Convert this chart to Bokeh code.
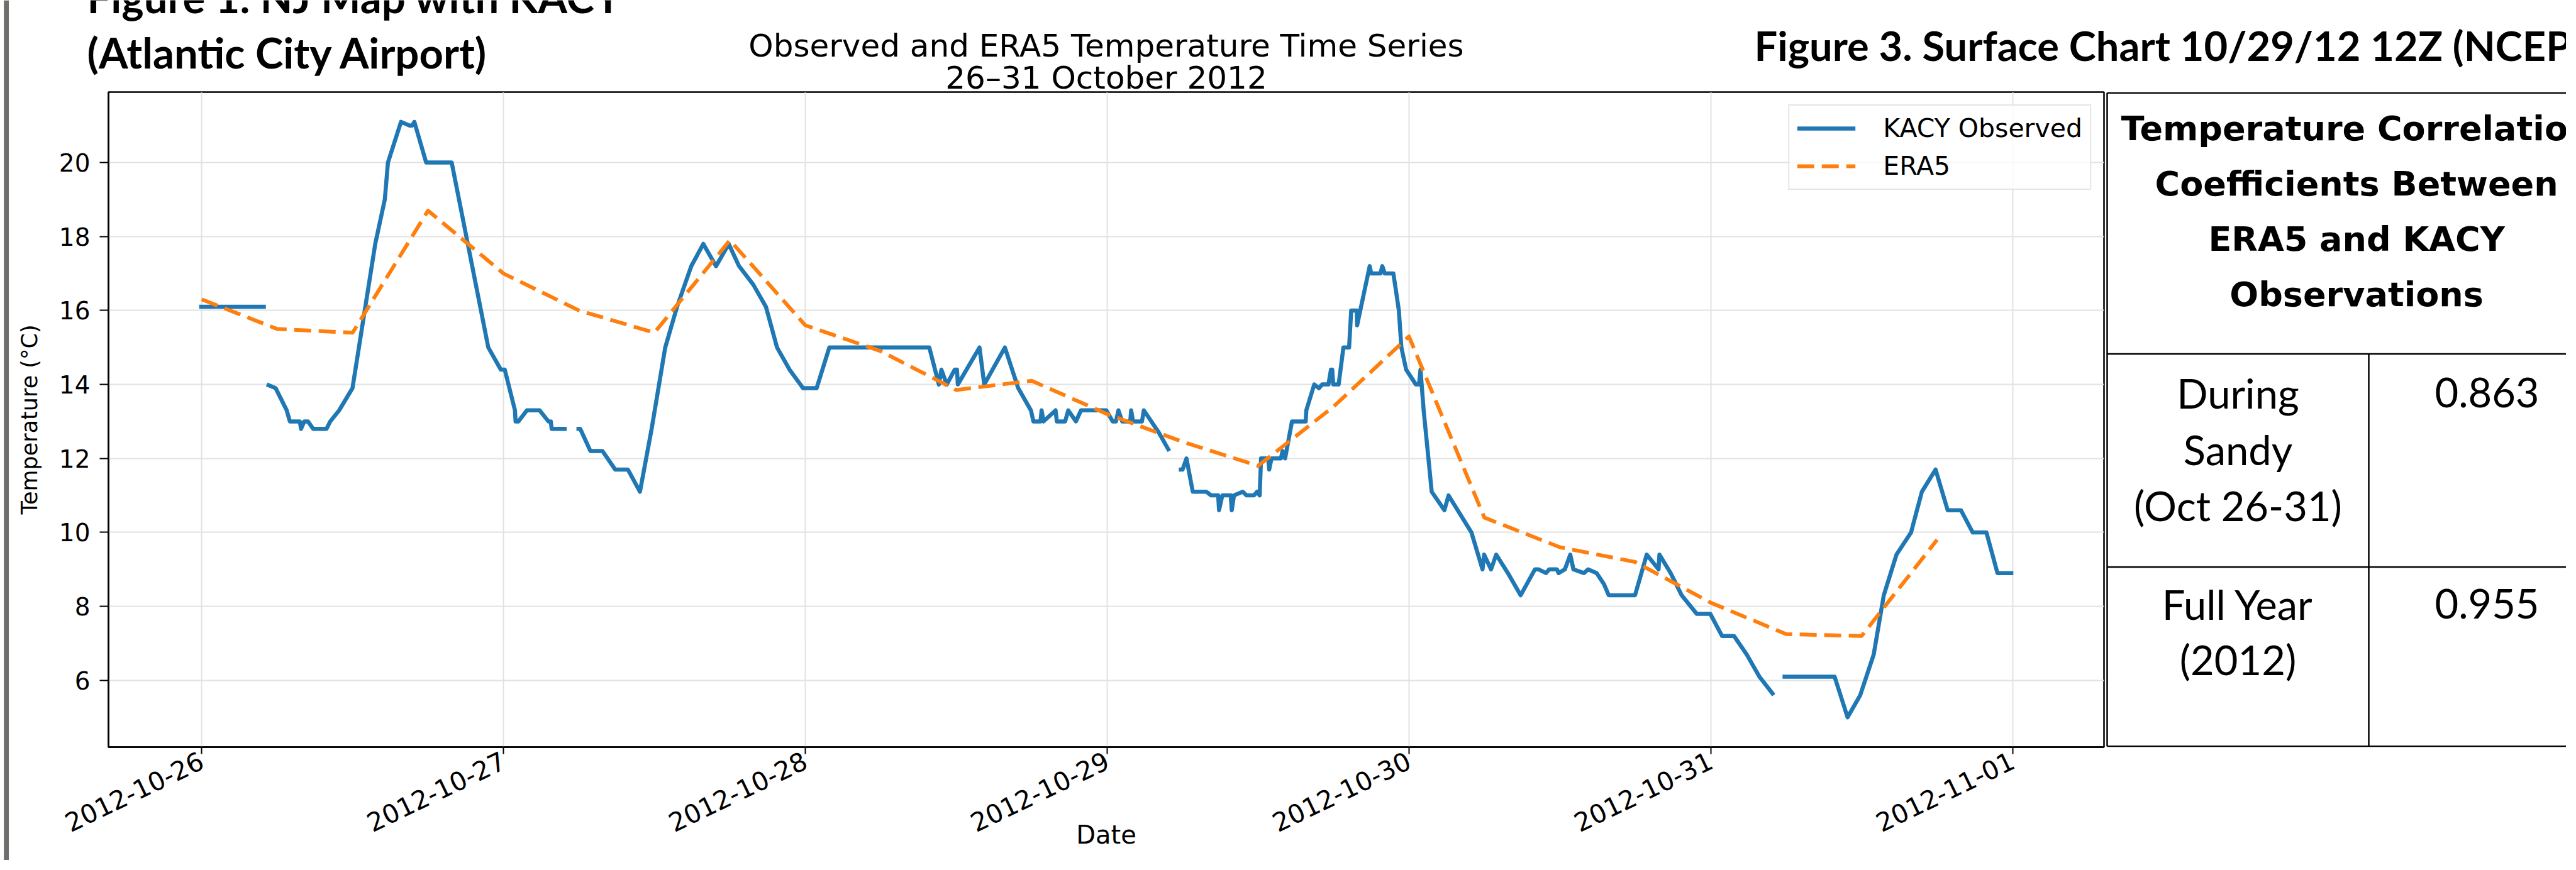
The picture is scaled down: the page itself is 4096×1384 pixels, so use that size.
import numpy as np
import pandas as pd
from bokeh.plotting import figure
from bokeh.models import (Range1d, Label, ColumnDataSource, FixedTicker,
                          DatetimeTickFormatter, BoxAnnotation)
from bokeh.layouts import row, column
from bokeh.embed import file_html
from bokeh.resources import INLINE
from bokeh.core.properties import value

NaN = float("nan")

# ---------------- data (hours after 2012-10-26 00:00) ----------------
obs_hours = [
    -0.2, 0.9, 1.9, 2.9, 3.9, 5.1, 5.13,
    5.17, 5.88, 6.76, 7.01, 7.80, 7.90, 8.15, 8.45, 8.86, 9.92,
    10.22, 10.93, 11.99, 13.80, 14.56, 14.81, 15.85, 16.53, 16.73, 16.91,
    17.85, 19.88, 22.79, 23.79, 24.10, 24.91, 24.96, 25.18, 25.86, 26.87,
    27.58, 27.76, 27.83, 29.02, 29.4,
    29.80, 30.10, 30.91, 31.87, 32.88, 33.89, 34.85, 35.78, 36.86, 37.80,
    38.93, 39.89, 40.90, 41.91, 42.73, 43.86, 44.87, 45.75, 46.75, 47.82,
    48.90, 49.91, 57.86, 58.62, 58.82, 59.25, 59.88, 60.06, 60.13, 61.85,
    62.23, 63.87, 64.93, 65.94, 66.14, 66.70, 66.79, 66.94, 67.90, 68.00,
    68.66, 68.91, 69.52, 69.92, 71.94, 72.44, 72.70, 72.90, 73.20, 73.84,
    73.91, 74.06, 74.77, 74.92, 76.11, 76.94, 77.3,
    77.70, 78.00, 78.31, 78.81, 79.89, 80.27, 80.83, 80.90, 81.16, 81.83,
    81.91, 82.09, 82.79, 83.09, 83.67, 83.93, 84.13, 84.24, 84.81, 84.89,
    85.07, 85.82, 85.95, 86.15, 86.70, 87.46, 87.79, 87.84, 88.47, 88.84,
    89.10, 89.60, 89.80, 89.90, 89.98, 90.41, 90.79, 91.24, 91.41, 91.85,
    91.88, 92.88, 93.00, 93.74, 93.88, 94.08, 94.76, 94.94, 95.20, 95.40,
    95.78, 96.55, 96.80, 96.92, 97.17, 97.55, 97.81, 98.82, 99.15, 100.97,
    101.85, 101.98, 102.53, 102.94, 103.87, 104.88, 106.02, 106.32, 106.90, 107.15,
    107.77, 107.90, 108.40, 108.83, 109.08, 109.91, 110.25, 110.93, 111.51, 111.89,
    113.98, 114.91, 115.85, 115.92, 116.81, 117.69, 118.88, 119.96, 120.90, 121.85,
    122.86, 123.87, 125.01, 125.4,
    125.71, 129.85, 130.88, 131.89, 132.96, 133.76, 134.77, 135.93, 136.79, 137.88,
    138.84, 139.90, 140.83, 141.92, 142.80, 144.06,
]
obs_temp = [
    16.1, 16.1, 16.1, 16.1, 16.1, 16.1, NaN,
    14.0, 13.9, 13.3, 13.0, 13.0, 12.8, 13.0, 13.0, 12.8, 12.8,
    13.0, 13.3, 13.9, 17.8, 19.0, 20.0, 21.1, 21.0, 21.0, 21.1,
    20.0, 20.0, 15.0, 14.4, 14.4, 13.3, 13.0, 13.0, 13.3, 13.3,
    13.0, 13.0, 12.8, 12.8, NaN,
    12.8, 12.8, 12.2, 12.2, 11.7, 11.7, 11.1, 12.8, 15.0, 16.1,
    17.2, 17.8, 17.2, 17.8, 17.2, 16.7, 16.1, 15.0, 14.4, 13.9,
    13.9, 15.0, 15.0, 14.0, 14.4, 14.0, 14.4, 14.4, 14.0, 15.0,
    14.0, 15.0, 13.9, 13.3, 13.0, 13.0, 13.3, 13.0, 13.3, 13.0,
    13.0, 13.3, 13.0, 13.3, 13.3, 13.0, 13.0, 13.3, 13.0, 13.0,
    13.3, 13.0, 13.0, 13.3, 12.7, 12.2, NaN,
    11.7, 11.7, 12.0, 11.1, 11.1, 11.0, 11.0, 10.6, 11.0, 11.0,
    10.6, 11.0, 11.1, 11.0, 11.0, 11.1, 11.0, 12.0, 12.0, 11.7,
    12.0, 12.0, 12.2, 12.0, 13.0, 13.0, 13.0, 13.3, 14.0, 13.9,
    14.0, 14.0, 14.4, 14.4, 14.0, 14.0, 15.0, 15.0, 16.0, 16.0,
    15.6, 17.2, 17.0, 17.0, 17.2, 17.0, 17.0, 16.6, 16.0, 15.0,
    14.4, 14.0, 14.0, 14.4, 13.3, 12.0, 11.1, 10.6, 11.0, 10.0,
    9.0, 9.4, 9.0, 9.4, 8.9, 8.3, 9.0, 9.0, 8.9, 9.0,
    9.0, 8.9, 9.0, 9.4, 9.0, 8.9, 9.0, 8.9, 8.6, 8.3,
    8.3, 9.4, 9.0, 9.4, 8.9, 8.3, 7.8, 7.8, 7.2, 7.2,
    6.7, 6.1, 5.6, NaN,
    6.1, 6.1, 5.0, 5.6, 6.7, 8.3, 9.4, 10.0, 11.1, 11.7,
    10.6, 10.6, 10.0, 10.0, 8.9, 8.9,
]
era5_hours = [0, 6, 12, 18, 24, 30, 36, 42, 48, 54, 60, 66,
              72, 78, 84, 90, 96, 102, 108, 114, 120, 126, 132, 138]
era5_temp = [16.3, 15.5, 15.4, 18.7, 17.0, 16.0, 15.4, 17.9, 15.6, 14.9, 13.85, 14.1,
             13.2, 12.45, 11.8, 13.4, 15.3, 10.4, 9.6, 9.2, 8.1, 7.25, 7.2, 9.8]

day_ticks = ["2012-10-26", "2012-10-27", "2012-10-28", "2012-10-29",
             "2012-10-30", "2012-10-31", "2012-11-01"]
y_ticks = [6, 8, 10, 12, 14, 16, 18, 20]

chart_title = ["Observed and ERA5 Temperature Time Series", "26\u201331 October 2012"]
poster_left = ["Figure 1. NJ Map with KACY", "(Atlantic City Airport)"]
poster_right = "Figure 3. Surface Chart 10/29/12 12Z (NCEP)"

table_header = ["Temperature Correlation", "Coefficients Between", "ERA5 and KACY", "Observations"]
table_row1 = ["During", "Sandy", "(Oct 26-31)"]
table_row2 = ["Full Year", "(2012)"]
table_values = ["0.863", "0.955"]

# ---------------- sizes ----------------
W, H = 4080, 1368
BAR_W = 14
TOP_H = 144
CHART_W = 3334
TABLE_W = W - BAR_W - CHART_W
BODY_H = H - TOP_H
B_LEFT, B_RIGHT, B_TOP, B_BOT = 158, 3, 2, 180
FRAME_H = BODY_H - B_TOP - B_BOT

start = pd.Timestamp("2012-10-26 00:00")


def to_dt(hours):
    return (start + pd.to_timedelta(np.asarray(hours, dtype=float), unit="h")).values


obs_src = ColumnDataSource(dict(t=to_dt(obs_hours), v=np.array(obs_temp, dtype=float)))
era_src = ColumnDataSource(dict(t=to_dt(era5_hours), v=np.array(era5_temp, dtype=float)))

all_h = obs_hours + era5_hours
xmin, xmax = min(all_h), max(all_h)
xpad = 0.05 * (xmax - xmin)
x_range = Range1d(start=(start + pd.Timedelta(hours=xmin - xpad)).to_pydatetime(),
                  end=(start + pd.Timedelta(hours=xmax + xpad)).to_pydatetime())
vals = [v for v in obs_temp + era5_temp if v == v]
ymin, ymax = min(vals), max(vals)
ypad = 0.05 * (ymax - ymin)
y_range = Range1d(ymin - ypad, ymax + ypad)


def blank(width, height, xr, yr, **kw):
    opts = dict(min_border=0)
    opts.update(kw)
    f = figure(width=width, height=height, x_range=xr, y_range=yr, title=None,
               output_backend="svg", toolbar_location=None,
               x_axis_location=None, y_axis_location=None,
               outline_line_color=None, background_fill_color="white",
               border_fill_color="white", **opts)
    f.xgrid.visible = False
    f.ygrid.visible = False
    return f


# ---------------- left grey bar ----------------
bar = blank(BAR_W, H, Range1d(0, BAR_W), Range1d(0, 1))
bar.add_layout(BoxAnnotation(left=5.7, right=13.5, fill_color="#6e6e6a", fill_alpha=1.0,
                             line_color=None))

# ---------------- top strip (poster titles + chart title) ----------------
top = blank(W - BAR_W, TOP_H, Range1d(0, 1), Range1d(0, 1))
poster_font = dict(text_font="Lato", text_font_style="bold",
                   text_baseline="alphabetic", text_color="black",
                   x_units="screen", y_units="screen")
top.add_layout(Label(x=124, y=150, text=poster_left[0], text_font_size="67px", **poster_font))
top.add_layout(Label(x=124, y=62, text=poster_left[1], text_font_size="67px", **poster_font))
top.add_layout(Label(x=2775, y=73, text=poster_right, text_font_size="65px", **poster_font))
title_font = dict(text_font="DejaVu Sans", text_font_size="50px", text_align="center",
                  text_baseline="alphabetic", text_color="black",
                  x_units="screen", y_units="screen")
top.add_layout(Label(x=1744.5, y=72, text=chart_title[0], **title_font))
top.add_layout(Label(x=1744.5, y=21, text=chart_title[1], **title_font))

# ---------------- chart ----------------
p = figure(width=CHART_W, height=BODY_H, x_axis_type="datetime", x_range=x_range,
           y_range=y_range, title=None, output_backend="svg", toolbar_location=None,
           min_border_left=B_LEFT, min_border_right=B_RIGHT, min_border_top=B_TOP,
           min_border_bottom=B_BOT,
           background_fill_color="white", border_fill_color="white")
p.outline_line_color = "black"
p.outline_line_width = 2.5

p.line("t", "v", source=obs_src, line_color="#1f77b4", line_width=6.5,
       line_join="round", legend_label="KACY Observed")
p.line("t", "v", source=era_src, line_color="#ff7f0e", line_width=6,
       line_dash="27 12", line_join="round", legend_label="ERA5")

day_ms = [pd.Timestamp(d).value / 1e6 for d in day_ticks]
xa = p.xaxis[0]
xa.ticker = FixedTicker(ticks=day_ms)
fmt = "%Y-%m-%d"
xa.formatter = DatetimeTickFormatter(microseconds=fmt, milliseconds=fmt, seconds=fmt,
                                     minsec=fmt, minutes=fmt, hourmin=fmt, hours=fmt,
                                     days=fmt, months=fmt, years=fmt)
xa.major_label_orientation = 0.449
xa.major_label_standoff = 8
xa.major_tick_out = 11
xa.major_tick_in = 0
xa.minor_tick_out = 0
xa.minor_tick_in = 0
xa.major_label_text_font = "DejaVu Sans"
xa.major_label_text_font_size = "41px"
xa.major_label_text_color = "black"
xa.major_tick_line_color = "black"
xa.major_tick_line_width = 2
xa.axis_line_color = "black"
xa.axis_line_width = 2.5
xa.axis_label = "Date"
xa.axis_label_text_font = "DejaVu Sans"
xa.axis_label_text_font_size = "40px"
xa.axis_label_text_font_style = "normal"
xa.axis_label_text_color = "black"
xa.axis_label_standoff = -36

ya = p.yaxis[0]
ya.ticker = FixedTicker(ticks=y_ticks)
ya.major_label_standoff = 15
ya.major_tick_out = 14
ya.major_tick_in = 0
ya.minor_tick_out = 0
ya.minor_tick_in = 0
ya.major_label_text_font = "DejaVu Sans"
ya.major_label_text_font_size = "39px"
ya.major_label_text_color = "black"
ya.major_tick_line_color = "black"
ya.major_tick_line_width = 2
ya.axis_line_color = "black"
ya.axis_line_width = 2.5
ya.axis_label = "Temperature (\u00b0C)"
ya.axis_label_text_font = "DejaVu Sans"
ya.axis_label_text_font_size = "35px"
ya.axis_label_text_font_style = "normal"
ya.axis_label_text_color = "black"
ya.axis_label_standoff = 24

p.xgrid.ticker = FixedTicker(ticks=day_ms)
p.ygrid.ticker = FixedTicker(ticks=y_ticks)
p.grid.grid_line_color = "#e2e2e2"
p.grid.grid_line_width = 2

lg = p.legend[0]
lg.location = "top_right"
lg.margin = 20
lg.padding = 12
lg.spacing = 12
lg.label_standoff = 44
lg.glyph_width = 93
lg.glyph_height = 40
lg.label_height = 40
lg.label_text_font = "DejaVu Sans"
lg.label_text_font_size = "41px"
lg.label_text_color = "black"
lg.border_line_color = "#cccccc"
lg.border_line_width = 2.5
lg.background_fill_alpha = 0.8

# ---------------- table (frame aligned with the chart frame) ----------------
tb = blank(TABLE_W, BODY_H, Range1d(0, TABLE_W), Range1d(FRAME_H, 0),
           min_border_left=0, min_border_right=0, min_border_top=B_TOP,
           min_border_bottom=B_BOT)
y_top, y_head, y_row2, y_bot = 1.3, 416.6, 755.5, FRAME_H - 1.3
x_left, x_div = 2, 418
tb.segment(x0=[x_left, x_left, x_left, x_left, x_left, x_div],
           y0=[y_top, y_top, y_head, y_row2, y_bot, y_head],
           x1=[TABLE_W, x_left, TABLE_W, TABLE_W, TABLE_W, x_div],
           y1=[y_top, y_bot, y_head, y_row2, y_bot, y_bot],
           line_color="black", line_width=2.5)
tb.text(x=[398.6] * 4, y=[58, 146, 234, 322], text=table_header,
        text_font=value("DejaVu Sans"), text_font_style="bold",
        text_font_size=value("54px"), text_align="center", text_baseline="middle",
        text_color="black")
tb.text(x=[210] * 5, y=[478, 568, 657, 814, 902], text=table_row1 + table_row2,
        text_font=value("Lato"), text_font_size=value("65px"), text_align="center",
        text_baseline="middle", text_color="black")
tb.text(x=[606] * 2, y=[478, 814], text=table_values,
        text_font=value("Lato"), text_font_size=value("65px"), text_align="center",
        text_baseline="middle", text_color="black")

layout = row(bar, column(top, row(p, tb)))
open("out.html", "w").write(file_html(layout, INLINE))
